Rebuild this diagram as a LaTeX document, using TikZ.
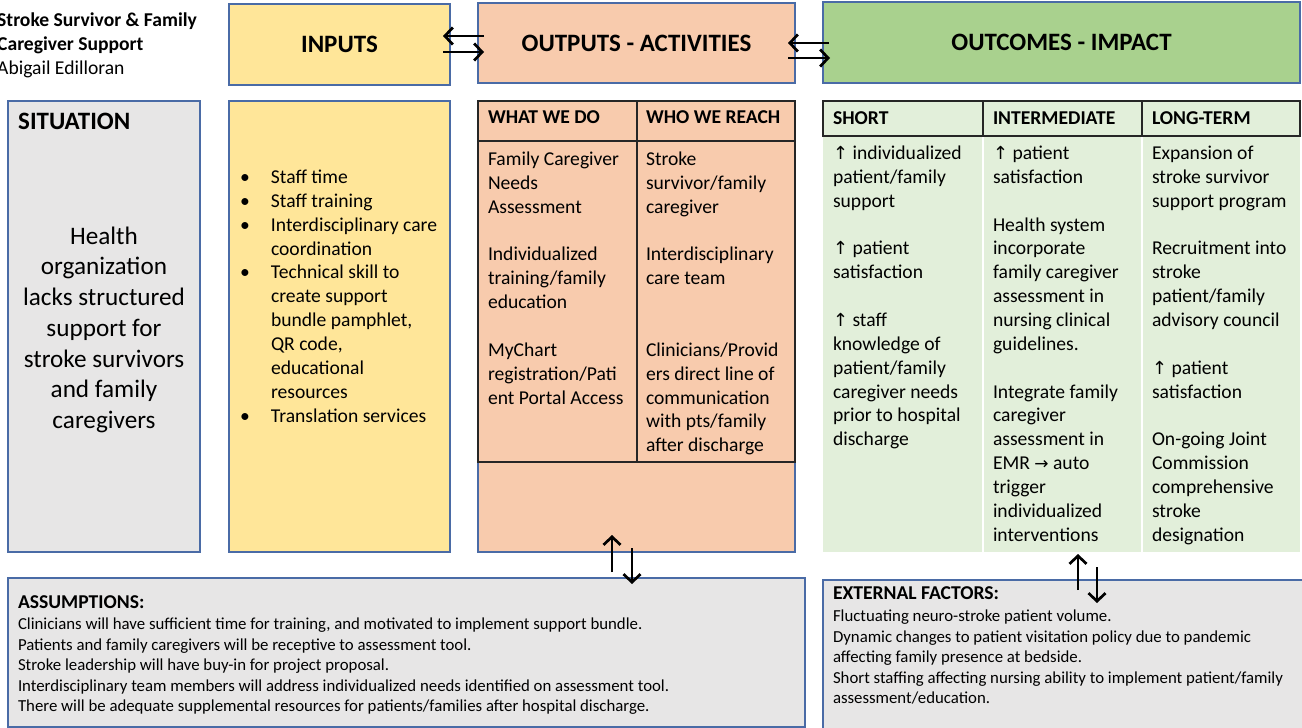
\documentclass[tikz,border=0pt]{standalone}
\usepackage{fontspec}
\setmainfont{Carlito}
\newfontfamily\symfont{DejaVu Sans}
\usetikzlibrary{arrows.meta}

\definecolor{inyellow}{HTML}{FFE699}
\definecolor{outpeach}{HTML}{F8CBAD}
\definecolor{ocgreen}{HTML}{A9D18E}
\definecolor{ocpale}{HTML}{E2EFDA}
\definecolor{boxgrey}{HTML}{E7E6E6}
\definecolor{edgeblue}{HTML}{4A6BA6}
\definecolor{gridline}{HTML}{262626}

\newcommand\upar{{\symfont\fontsize{18}{18}\selectfont ↑}}
\newcommand\rtar{{\symfont\fontsize{17}{17}\selectfont →}}
\newcommand\bul{\makebox[31pt][l]{•}}
\newcommand\ind{\hspace*{31pt}}
% fixed first-line height: a node's top edge lies 20pt above its first baseline
\newcommand\tops{\rule{0pt}{20pt}}

\tikzset{
  panel/.style={draw=edgeblue, line width=1.3pt, inner sep=0pt, outer sep=0pt},
  headbox/.style={panel, font=\bfseries\fontsize{25}{30}\selectfont},
  bodytext/.style={inner sep=0pt, outer sep=0pt, anchor=north west, align=left,
    font=\fontsize{19.6}{23.85}\selectfont},
  colhead/.style={bodytext, font=\bfseries\fontsize{19.6}{23.85}\selectfont},
  notetext/.style={inner sep=0pt, outer sep=0pt, anchor=north west, align=left,
    font=\fontsize{16.8}{20.5}\selectfont},
  flow/.style={line width=2.7pt, -{Straight Barb[length=8pt,width=17pt]}},
  rule/.style={draw=gridline, line width=1.3pt},
}

\begin{document}
\begin{tikzpicture}[x=1pt,y=-1pt]
\useasboundingbox (0,0) rectangle (1302,728);

% title block
\node[inner sep=0pt, anchor=north west, align=left, font=\fontsize{19.6}{24}\selectfont]
  (title) at (-3,6) {\tops\textbf{Stroke Survivor \& Family}\\\textbf{Caregiver Support}\\Abigail Edilloran};

% header row
\node[headbox, fill=inyellow, minimum width=221pt, minimum height=81pt] (inputs) at (339.5,44.5) {INPUTS};
\node[headbox, fill=outpeach, minimum width=317pt, minimum height=80pt] (outputs) at (636.5,43) {OUTPUTS - ACTIVITIES};
\node[headbox, fill=ocgreen, minimum width=477pt, minimum height=81pt] (outcomes) at (1061.5,42.5) {OUTCOMES - IMPACT};

% body panels
\node[panel, fill=boxgrey, minimum width=192pt, minimum height=451pt] (situation) at (104,326.5) {};
\node[panel, fill=inyellow, minimum width=221pt, minimum height=451pt] (inbody) at (339.5,326.5) {};
\node[panel, fill=outpeach, minimum width=317pt, minimum height=451pt] (outbody) at (636.5,326.5) {};
\node[inner sep=0pt, outer sep=0pt, fill=ocpale, minimum width=477pt, minimum height=451pt] (ocbody) at (1061.5,326.5) {};
\node[panel, fill=boxgrey, minimum width=797pt, minimum height=149pt] (assume) at (406.5,652.5) {};
\node[panel, fill=boxgrey, minimum width=490pt, minimum height=160pt] (external) at (1068,660) {};

% situation
\node[inner sep=0pt, anchor=north west, font=\bfseries\fontsize{25}{30}\selectfont] (sithead) at (18,109) {\tops SITUATION};
\node[inner sep=0pt, anchor=north, align=center, font=\fontsize{25.2}{30.7}\selectfont] (sittext) at (104,224)
  {\tops Health\\organization\\lacks structured\\support for\\stroke survivors\\and family\\caregivers};

% inputs list
\node[bodytext] (inlist) at (240,163.5)
  {\tops\bul Staff time\\\bul Staff training\\\bul Interdisciplinary care\\\ind coordination\\
   \bul Technical skill to\\\ind create support\\\ind bundle pamphlet,\\\ind QR code,\\
   \ind educational\\\ind resources\\\bul Translation services};

% outputs table
\draw[rule] (478,101) rectangle (795,462);
\draw[rule] (478,141) -- (795,141);
\draw[rule] (637,101) -- (637,462);
\node[colhead] (whatdo) at (488,103.5) {\tops WHAT WE DO};
\node[colhead] (whoreach) at (646,103.5) {\tops WHO WE REACH};
\node[bodytext] (whatdotext) at (488,145.5)
  {\tops Family Caregiver\\Needs\\Assessment\\[23.85pt]Individualized\\training/family\\education\\[23.85pt]
   MyChart\\registration/Pati\\ent Portal Access};
\node[bodytext] (whoreachtext) at (646,145.5)
  {\tops Stroke\\survivor/family\\caregiver\\[23.85pt]Interdisciplinary\\care team\\[47.7pt]
   Clinicians/Provid\\ers direct line of\\communication\\with pts/family\\after discharge};

% outcomes table
\draw[white, line width=2pt] (983,136) -- (983,552);
\draw[white, line width=2pt] (1142,136) -- (1142,552);
\draw[rule] (823,101) rectangle (1300,136);
\draw[rule] (983,101) -- (983,136);
\draw[rule] (1142,101) -- (1142,136);
\node[colhead] (short) at (833,104) {\tops SHORT};
\node[colhead] (inter) at (993,104) {\tops INTERMEDIATE};
\node[colhead] (longterm) at (1152,104) {\tops LONG-TERM};
\node[bodytext] (shorttext) at (833,139.5)
  {\tops\upar{} individualized\\patient/family\\support\\[23.85pt]\upar{} patient\\satisfaction\\[23.85pt]
   \upar{} staff\\knowledge of\\patient/family\\caregiver needs\\prior to hospital\\discharge};
\node[bodytext] (intertext) at (993,139.5)
  {\tops\upar{} patient\\satisfaction\\[23.85pt]Health system\\incorporate\\family caregiver\\assessment in\\
   nursing clinical\\guidelines.\\[23.85pt]Integrate family\\caregiver\\assessment in\\EMR \rtar{} auto\\
   trigger\\individualized\\interventions};
\node[bodytext] (longtext) at (1152,139.5)
  {\tops Expansion of\\stroke survivor\\support program\\[23.85pt]Recruitment into\\stroke\\patient/family\\
   advisory council\\[23.85pt]\upar{} patient\\satisfaction\\[23.85pt]On-going Joint\\Commission\\
   comprehensive\\stroke\\designation};

% assumptions
\node[notetext, font=\bfseries\fontsize{19.6}{23}\selectfont] (asshead) at (18,588.5) {\tops ASSUMPTIONS:};
\node[notetext] (asstext) at (18,609.5)
  {\tops Clinicians will have sufficient time for training, and motivated to implement support bundle.\\
   Patients and family caregivers will be receptive to assessment tool.\\
   Stroke leadership will have buy-in for project proposal.\\
   Interdisciplinary team members will address individualized needs identified on assessment tool.\\
   There will be adequate supplemental resources for patients/families after hospital discharge.};

% external factors
\node[notetext, font=\bfseries\fontsize{19.6}{23}\selectfont] (exthead) at (833,579.5) {\tops EXTERNAL FACTORS:};
\node[notetext] (exttext) at (833,601.5)
  {\tops Fluctuating neuro-stroke patient volume.\\
   Dynamic changes to patient visitation policy due to pandemic\\
   affecting family presence at bedside.\\
   Short staffing affecting nursing ability to implement patient/family\\
   assessment/education.};

% connector end points
\coordinate (ioL1) at (484,36);  \coordinate (ioL2) at (443,36);
\coordinate (ioR1) at (443,52);  \coordinate (ioR2) at (484,52);
\coordinate (ooL1) at (829,43);  \coordinate (ooL2) at (788,43);
\coordinate (ooR1) at (788,58);  \coordinate (ooR2) at (830,58);
\coordinate (oaU1) at (612,572); \coordinate (oaU2) at (612,535);
\coordinate (oaD1) at (632,548); \coordinate (oaD2) at (632,584);
\coordinate (oeU1) at (1078,590); \coordinate (oeU2) at (1078,554);
\coordinate (oeD1) at (1097,567); \coordinate (oeD2) at (1097,603);

% feedback arrows
\draw[flow] (ioL1) -- (ioL2);
\draw[flow] (ioR1) -- (ioR2);
\draw[flow] (ooL1) -- (ooL2);
\draw[flow] (ooR1) -- (ooR2);
\draw[flow] (oaU1) -- (oaU2);
\draw[flow] (oaD1) -- (oaD2);
\draw[flow] (oeU1) -- (oeU2);
\draw[flow] (oeD1) -- (oeD2);
\end{tikzpicture}
\end{document}
